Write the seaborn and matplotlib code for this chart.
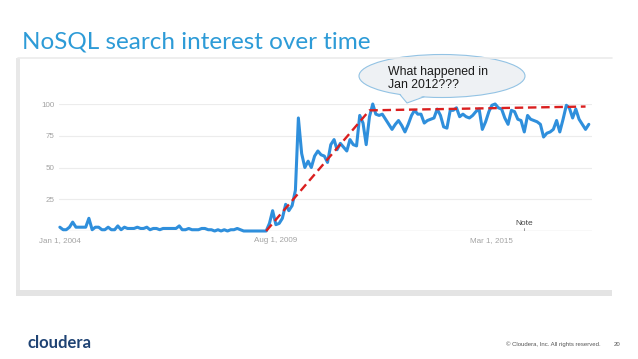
import numpy as np
import pandas as pd
import matplotlib
matplotlib.use("Agg")
import matplotlib.pyplot as plt
import matplotlib.dates as mdates
from matplotlib.patches import Ellipse, Polygon, Rectangle
from matplotlib.lines import Line2D
import seaborn as sns

# monthly search interest, Jan 2004 onwards
interest = [
    3, 1, 1, 3, 7, 3, 3, 3, 3, 10,
    1, 3, 3, 1, 1, 3, 1, 1, 4, 1,
    3, 2, 2, 2, 3, 2, 2, 3, 1, 2,
    2, 1, 2, 2, 2, 2, 2, 4, 1, 1,
    2, 1, 1, 1, 2, 2, 1, 1, 0, 1,
    0, 1, 0, 1, 1, 2, 1, 0, 0, 0,
    0, 0, 0, 0, 0, 6, 16, 5, 6, 10,
    21, 16, 20, 32, 89, 61, 50, 55, 50, 59,
    63, 60, 59, 54, 68, 72, 64, 69, 66, 63,
    72, 68, 67, 91, 85, 68, 90,
    100, 92, 91, 92, 88, 84, 80, 84, 87, 83,
    78, 84, 91, 95, 92, 92, 85, 87, 88, 89,
    96, 91, 82, 81, 95, 95, 97, 90, 92, 90,
    89, 91, 94, 96, 80, 86, 94, 99, 100, 97,
    96, 89, 84, 95, 94, 88, 87, 78, 91, 88,
    87, 86, 84, 74, 77, 78, 80, 87, 78, 88,
    99, 97, 89, 96, 88, 84, 80, 84,
]
months = pd.date_range("2004-01-01", periods=len(interest), freq="MS")

# hand-drawn trend line
trend_dates = pd.to_datetime(["2009-05-01", "2012-01-01", "2017-08-01"])
trend_vals = [0, 95, 98]

tick_dates = pd.to_datetime(["2004-01-01", "2009-08-01", "2015-03-01"])
tick_labels = ["Jan 1, 2004", "Aug 1, 2009", "Mar 1, 2015"]
y_ticks = [0, 25, 50, 75, 100]
y_labels = ["", "25", "50", "75", "100"]

df = pd.DataFrame({"month": months, "interest": interest})

W, H = 638, 359
def px(x):
    return x / W
def py(y):
    return 1 - y / H

sns.set_style("white")
plt.rcParams["font.family"] = ["Liberation Sans", "DejaVu Sans"]

fig = plt.figure(figsize=(W / 100, H / 100), dpi=100)
fig.patch.set_facecolor("white")

# screenshot frame
fig.add_artist(Line2D([px(18), px(612)], [py(58), py(58)], color="#ebebeb", lw=1.2))
fig.add_artist(Rectangle((px(16), py(296)), px(4), (296 - 58) / H, color="#e8e8e8", lw=0))
fig.add_artist(Rectangle((px(16), py(296)), px(596), 6 / H, color="#e4e4e4", lw=0))

ax = fig.add_axes([px(59), py(231), (592 - 59) / W, (231 - 104) / H])

sns.lineplot(data=df, x="month", y="interest", ax=ax, color="#2f8fdc", lw=2.2,
             clip_on=False, zorder=3)
ax.plot(trend_dates, trend_vals, color="#da1f1f", lw=1.7, dashes=(3.6, 2.0),
        clip_on=False, zorder=4)

ax.set_ylim(0, 100)
ax.set_xlim(pd.Timestamp("2003-12-24"), pd.Timestamp("2017-10-01"))
ax.set_yticks(y_ticks)
ax.set_yticklabels(y_labels)
ax.set_xticks(tick_dates)
ax.set_xticklabels(tick_labels)
ax.tick_params(length=0, labelsize=5.8, labelcolor="#a3a3a3")
ax.tick_params(axis="y", pad=3)
ax.tick_params(axis="x", pad=4)
ax.set_xlabel("")
ax.set_ylabel("")
for s in ax.spines.values():
    s.set_visible(False)
for v in y_ticks[1:]:
    ax.axhline(v, color="#ececec", lw=0.8, zorder=1)
ax.axhline(0, color="#cfcfcf", lw=0.9, zorder=1)

note_x = pd.Timestamp("2016-01-01")
ax.text(note_x, 3.2, "Note", ha="center", va="bottom", fontsize=6, color="#444444")
ax.plot([note_x, note_x], [0, 2], color="#888888", lw=0.6)

# callout bubble
fig.add_artist(Ellipse((px(442), py(76)), 166 / W, 43 / H, facecolor="#eef1f4",
                       edgecolor="#93c3e4", lw=0.8))
tail = [(px(399), py(92)), (px(407), py(103)), (px(425), py(95))]
fig.add_artist(Polygon(tail, closed=True, facecolor="#eef1f4", edgecolor="none"))
fig.add_artist(Line2D([px(400), px(407), px(424)], [py(94.6), py(103), py(96.8)],
                      color="#93c3e4", lw=0.8))
fig.text(px(388), py(75), "What happened in", fontsize=8.8, color="#1a1a1a", va="baseline")
fig.text(px(388), py(88), "Jan 2012???", fontsize=8.8, color="#1a1a1a", va="baseline")

fig.text(px(22), py(48), "NoSQL search interest over time", fontsize=17.5,
         color="#2d9bd7", va="baseline", family=["Lato", "DejaVu Sans"])

fig.text(px(27), py(348), "cloudera", fontsize=12, fontweight="bold", color="#1f4374",
         va="baseline", family=["Lato", "DejaVu Sans"])
fig.text(px(601), py(346), "© Cloudera, Inc. All rights reserved.", fontsize=4.3,
         color="#555555", ha="right", va="baseline")
fig.text(px(620), py(346), "20", fontsize=4.3, color="#555555", ha="right", va="baseline")

fig.savefig("out.png", dpi=100)
